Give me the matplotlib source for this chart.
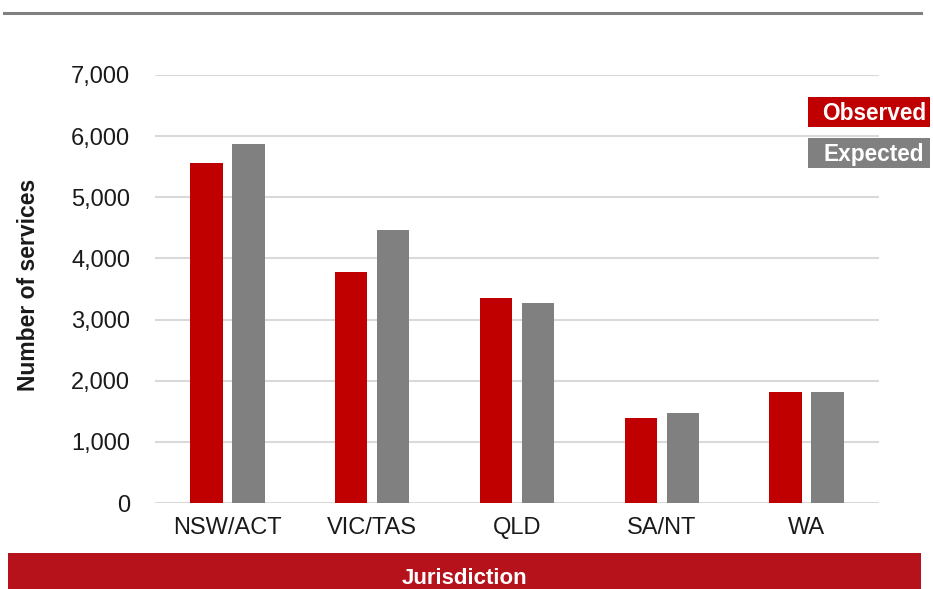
import matplotlib
matplotlib.use("Agg")
import matplotlib.pyplot as plt
import numpy as np
from matplotlib.patches import Rectangle
from matplotlib.lines import Line2D
from matplotlib.ticker import FuncFormatter

plt.rcParams['font.family'] = ['Liberation Sans', 'DejaVu Sans']

categories = ["NSW/ACT", "VIC/TAS", "QLD", "SA/NT", "WA"]
observed = [5560, 3770, 3360, 1395, 1815]
expected = [5870, 4465, 3265, 1475, 1815]
series_names = ["Observed", "Expected"]
yticks = [0, 1000, 2000, 3000, 4000, 5000, 6000, 7000]
x_title = "Jurisdiction"
y_title = "Number of services"

RED = "#C00000"
GRAY = "#808080"
BAND = "#B5121B"

W, H = 933, 589
fig = plt.figure(figsize=(W / 100, H / 100), dpi=100)
ax = fig.add_axes([155 / W, 1 - 503 / H, (879 - 155) / W, (503 - 75) / H])

x = np.arange(len(categories))
bw = 0.225
off = 0.145
ax.bar(x - off, observed, width=bw, color=RED, zorder=3)
ax.bar(x + off, expected, width=bw, color=GRAY, zorder=3)

ax.set_xlim(-0.5, len(categories) - 0.5)
ax.set_ylim(0, 7000)
ax.set_yticks(yticks)
ax.yaxis.set_major_formatter(FuncFormatter(lambda v, p: f"{int(v):,}"))
ax.set_xticks(x)
ax.set_xticklabels(categories)
ax.tick_params(axis='both', length=0, labelsize=17, colors="#1a1a1a")
ax.tick_params(axis='y', pad=18)
ax.tick_params(axis='x', pad=10)
ax.grid(axis='y', color="#d9d9d9", linewidth=1.5, zorder=0)
for s in ax.spines.values():
    s.set_visible(False)

fig.text(29 / W, 1 - 285 / H, y_title, rotation=90, ha='center', va='center',
         fontsize=16.5, fontweight='bold', color="#1a1a1a")

# top rule
fig.add_artist(Line2D([4 / W, 921 / W], [1 - 13 / H, 1 - 13 / H], color=GRAY,
                      linewidth=2.2, transform=fig.transFigure))

# bottom band
fig.add_artist(Rectangle((8 / W, 0), (921 - 8) / W, (589 - 553) / H,
                         transform=fig.transFigure, color=BAND, lw=0))
fig.text((8 + 921) / 2 / W, 1 - 578 / H, x_title, ha='center', va='center',
         fontsize=16, fontweight='bold', color='white')

# legend boxes
for name, col, (y0, y1) in zip(series_names, [RED, GRAY], [(97, 127), (138, 168)]):
    fig.add_artist(Rectangle((808 / W, 1 - y1 / H), (930 -808) / W, (y1 - y0) / H,
                             transform=fig.transFigure, color=col, lw=0))
    fig.text((808 + 930) / 2 / W + 5 / W, 1 - ((y0 + y1) / 2 + 1.5) / H, name,
             ha='center', va='center', fontsize=16.3, fontweight='bold', color='white')

fig.savefig("out.png", dpi=100)
